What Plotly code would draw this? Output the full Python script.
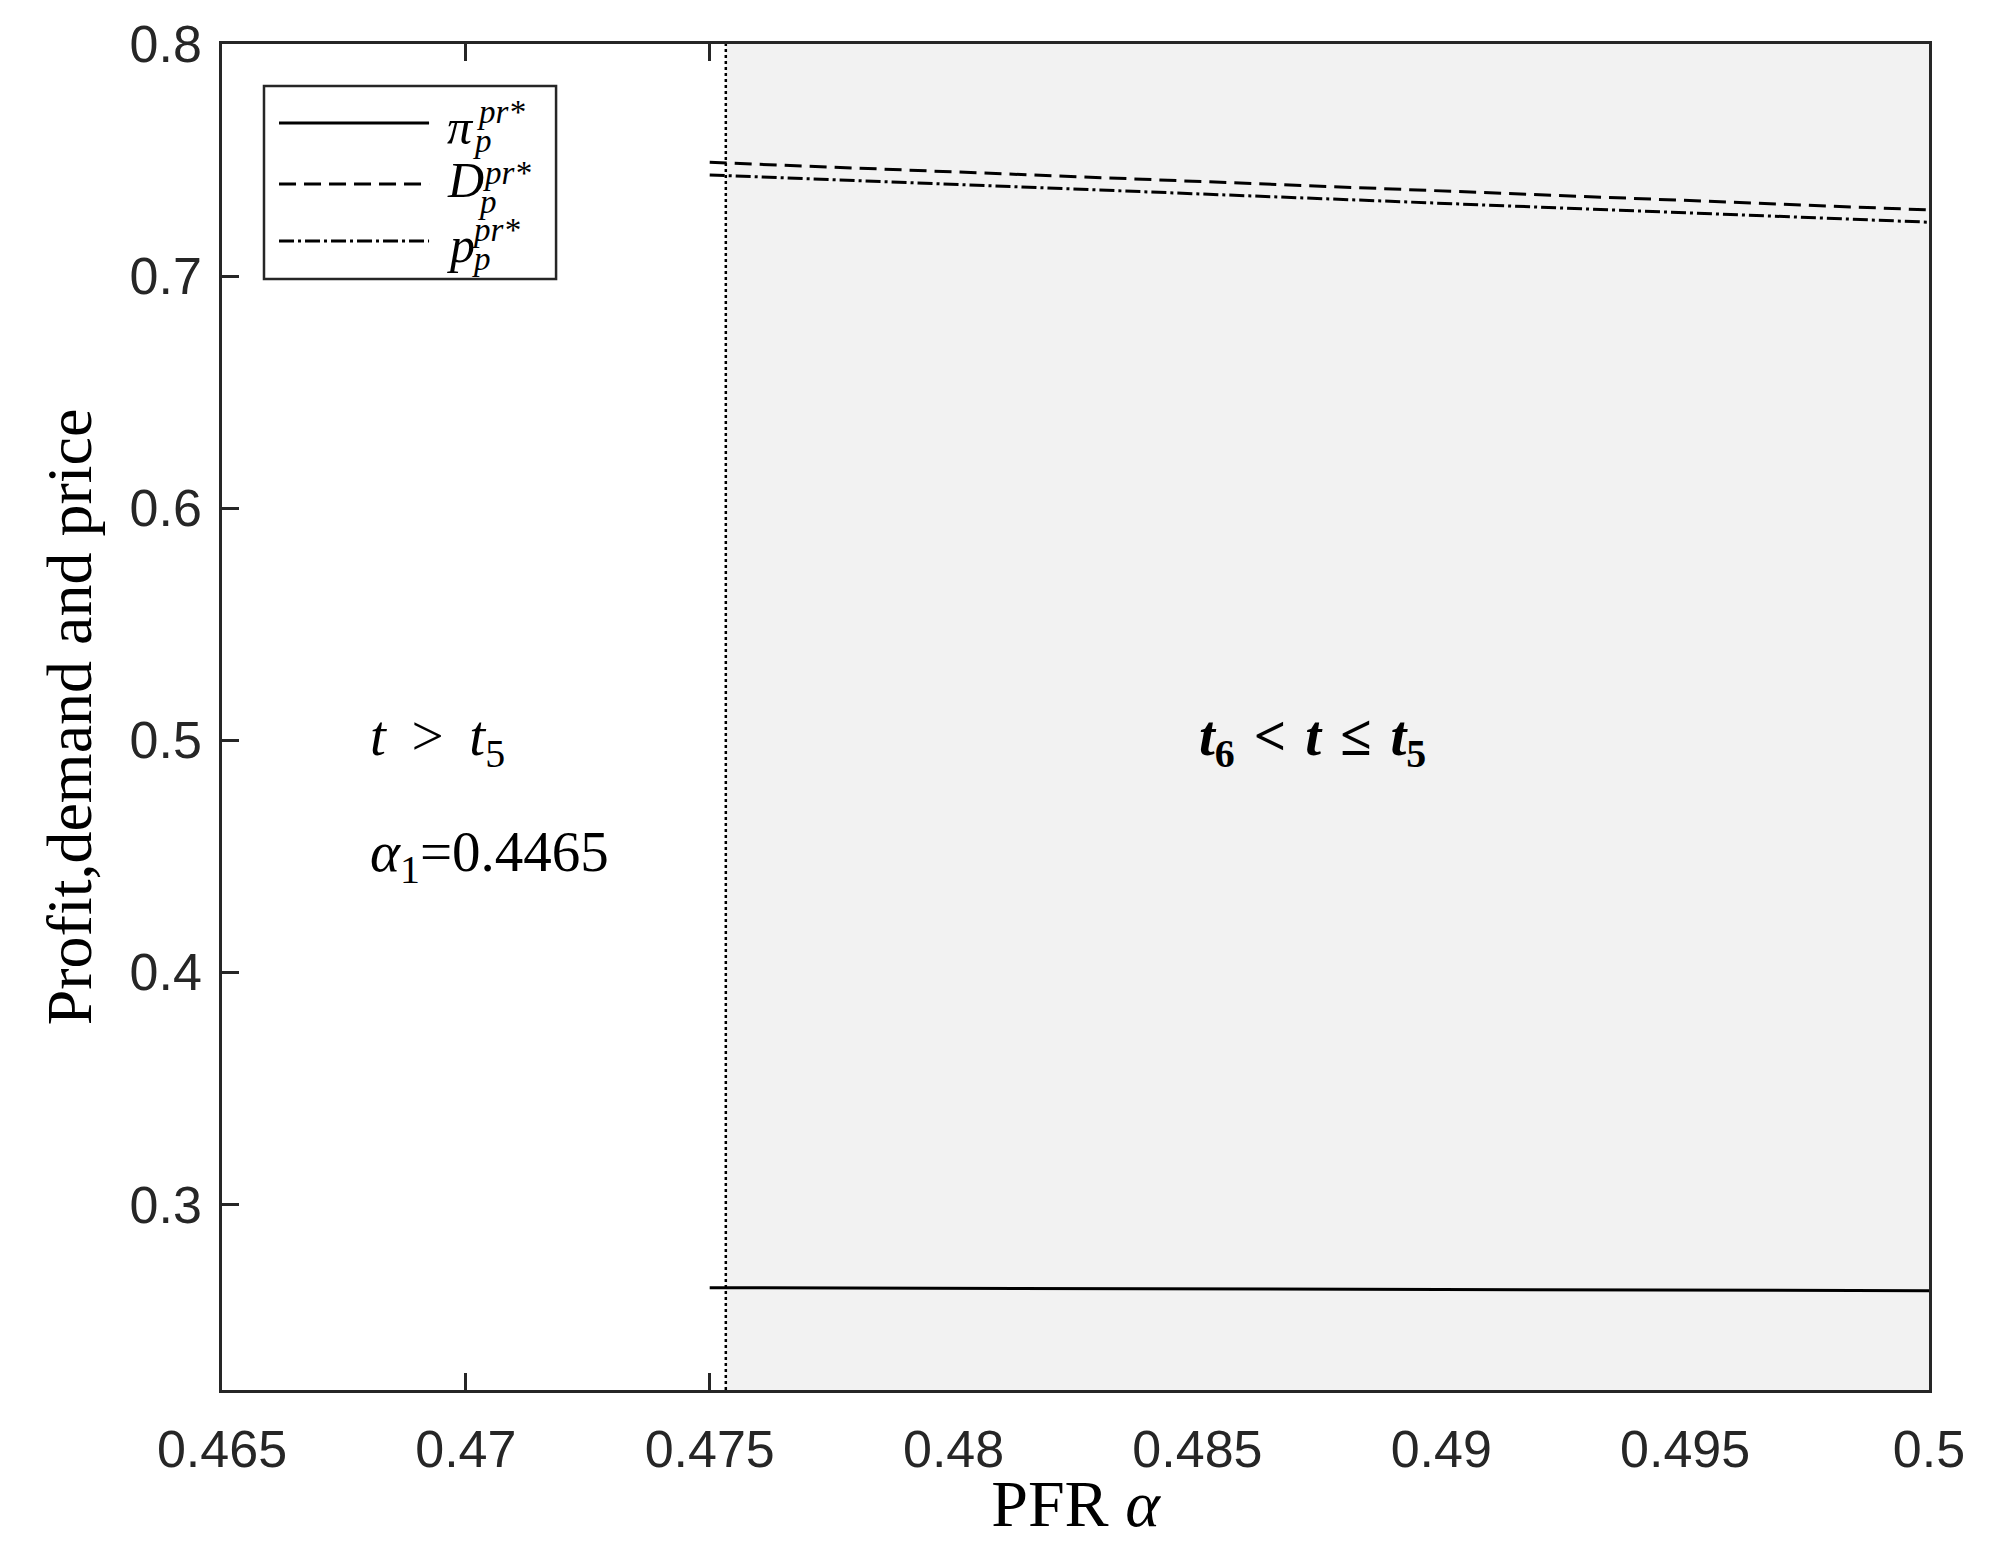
import plotly.graph_objects as go

# ---- data ----
alpha = [0.475, 0.48, 0.485, 0.49, 0.495, 0.5]
profit = [0.2641, 0.2638, 0.2636, 0.2633, 0.2631, 0.2628]
demand = [0.7490, 0.7449, 0.7408, 0.7367, 0.7326, 0.7285]
price = [0.7436, 0.7395, 0.7354, 0.7314, 0.7273, 0.7232]

alpha_boundary = 0.47533
x_range = [0.465, 0.5]
y_range = [0.22, 0.8]
x_ticks = [0.465, 0.47, 0.475, 0.48, 0.485, 0.49, 0.495, 0.5]
x_ticktext = ["0.465", "0.47", "0.475", "0.48", "0.485", "0.49", "0.495", "0.5"]
x_ticks_visible = [0.465, 0.47, 0.475]
y_ticks = [0.3, 0.4, 0.5, 0.6, 0.7, 0.8]
y_ticktext = ["0.3", "0.4", "0.5", "0.6", "0.7", "0.8"]

legend_main = ["π", "D", "p"]
legend_sup = ["pr*", "pr*", "pr*"]
legend_sub = ["p", "p", "p"]
legend_dash = ["solid", "17px,8px", "15px,4px,3px,4px"]

AX = "#262626"
SERIF = "Liberation Serif, DejaVu Serif, serif"
SANS = "Liberation Sans, Arial, Helvetica, sans-serif"
TS = "&#8201;"  # thin space
HS = "&#8202;"  # hair space

fig = go.Figure()

fig.add_trace(go.Scatter(x=alpha, y=profit, mode="lines",
                         line=dict(color="black", width=3, dash=legend_dash[0]),
                         showlegend=False))
fig.add_trace(go.Scatter(x=alpha, y=demand, mode="lines",
                         line=dict(color="black", width=3, dash=legend_dash[1]),
                         showlegend=False))
fig.add_trace(go.Scatter(x=alpha, y=price, mode="lines",
                         line=dict(color="black", width=3, dash=legend_dash[2]),
                         showlegend=False))
# regime boundary (dotted)
fig.add_trace(go.Scatter(x=[alpha_boundary, alpha_boundary], y=y_range, mode="lines",
                         line=dict(color="black", width=2.5, dash="3px,3px"),
                         xaxis="x2", showlegend=False))

# shaded region
fig.add_shape(type="rect", xref="x", yref="y", x0=alpha_boundary, x1=x_range[1],
              y0=y_range[0], y1=y_range[1], fillcolor="#f2f2f2",
              line=dict(width=0), layer="below")

# annotations in the plot
fig.add_annotation(x=0.468, y=0.5, xref="x", yref="y", xanchor="left", yanchor="middle",
                   text="<i>t</i>" + TS + " &gt; " + TS + "<i>t</i><sub>5</sub>", showarrow=False,
                   font=dict(family=SERIF, size=57, color="black"))
fig.add_annotation(x=0.468, y=0.45, xref="x", yref="y", xanchor="left", yanchor="middle",
                   text="<i>α</i><sub>1</sub>=0.4465", showarrow=False,
                   font=dict(family=SERIF, size=57, color="black"))
fig.add_annotation(x=0.485, y=0.5, xref="x", yref="y", xanchor="left", yanchor="middle",
                   text="<b><i>t</i><sub>6</sub>" + HS + " &lt; " + HS + "<i>t</i>" + HS
                        + " ≤ " + HS + "<i>t</i><sub>5</sub></b>",
                   showarrow=False, font=dict(family=SERIF, size=57, color="black"))

# custom legend (paper coords)
fig.add_shape(type="rect", xref="paper", yref="paper", x0=0.0246, x1=0.1957,
              y0=0.8254, y1=0.9688, fillcolor="white", line=dict(color=AX, width=2.5),
              layer="above")
row_y = [0.9413, 0.896, 0.8536]
main_dy = [-0.003, 0.003, -0.003]
sup_dx = [0.0176, 0.0215, 0.0146]
sub_dx = [0.0152, 0.0185, 0.0146]
for i in range(3):
    fig.add_shape(type="line", xref="paper", yref="paper", x0=0.0334, x1=0.1213,
                  y0=row_y[i], y1=row_y[i],
                  line=dict(color="black", width=3, dash=legend_dash[i]), layer="above")
    fig.add_annotation(x=0.1305, y=row_y[i] + main_dy[i], xref="paper", yref="paper",
                       xanchor="left", yanchor="middle", showarrow=False,
                       text="<i>%s</i>" % legend_main[i],
                       font=dict(family=SERIF, size=50, color="black"))
    fig.add_annotation(x=0.1305 + sup_dx[i], y=row_y[i] + 0.008, xref="paper", yref="paper",
                       xanchor="left", yanchor="middle", showarrow=False,
                       text="<i>%s</i>" % legend_sup[i],
                       font=dict(family=SERIF, size=33, color="black"))
    fig.add_annotation(x=0.1305 + sub_dx[i], y=row_y[i] - 0.0135, xref="paper", yref="paper",
                       xanchor="left", yanchor="middle", showarrow=False,
                       text="<i>%s</i>" % legend_sub[i],
                       font=dict(family=SERIF, size=33, color="black"))

fig.update_layout(
    width=1973, height=1532,
    margin=dict(l=214, r=52, t=36, b=150, autoexpand=False),
    paper_bgcolor="white", plot_bgcolor="white",
    showlegend=False,
    xaxis=dict(range=x_range, tickvals=x_ticks, ticktext=x_ticktext, ticks="",
               showgrid=False, zeroline=False, showline=True, linecolor=AX, linewidth=2.5,
               mirror=True, ticklabelstandoff=12,
               tickfont=dict(family=SANS, size=52, color=AX),
               title=dict(text="PFR <i>α</i>", standoff=24,
                          font=dict(family=SERIF, size=66, color="black"))),
    xaxis2=dict(range=x_range, overlaying="x", side="bottom", tickvals=x_ticks_visible,
                ticks="inside", ticklen=17, tickwidth=2.5, tickcolor=AX, mirror="ticks",
                showline=False, showticklabels=False, showgrid=False, zeroline=False),
    yaxis=dict(range=y_range, tickvals=y_ticks, ticktext=y_ticktext, ticks="inside",
               ticklen=17, tickwidth=2.5, tickcolor=AX,
               showgrid=False, zeroline=False, showline=True, linecolor=AX, linewidth=2.5,
               mirror=True, ticklabelstandoff=7,
               tickfont=dict(family=SANS, size=52, color=AX),
               title=dict(text="Profit,demand and price", standoff=18,
                          font=dict(family=SERIF, size=64, color="black"))),
)

fig.write_html("out.html")
